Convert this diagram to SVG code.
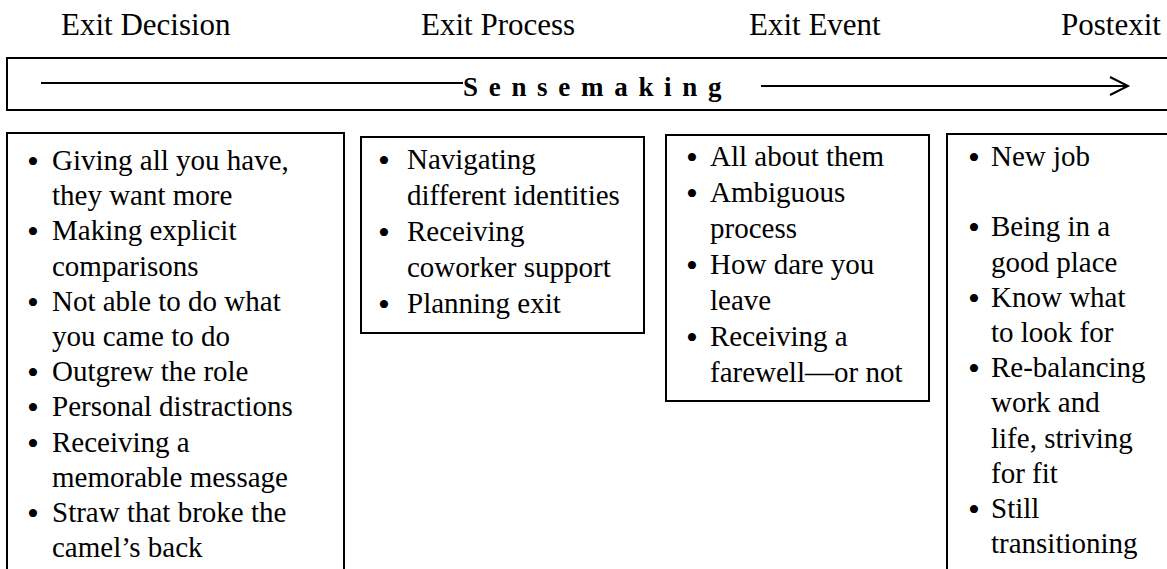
<svg xmlns="http://www.w3.org/2000/svg" width="1167" height="569" viewBox="0 0 1167 569">
<style>
.hd{font-family:"Liberation Serif","Times New Roman",serif;font-size:31px;fill:#000}
.t{font-family:"Liberation Serif","Times New Roman",serif;font-size:29px;fill:#000}
.bl{font-size:34px}
.box{fill:#fff;stroke:#000;stroke-width:2}
.ln{stroke:#000;stroke-width:2;fill:none}
.sm{font-family:"Liberation Serif","Times New Roman",serif;font-size:27px;font-weight:bold;letter-spacing:10.7px;fill:#000}
</style>
<rect width="1167" height="569" fill="#fff"/>
<g id="headers">
<text class="hd" x="61" y="35">Exit Decision</text>
<text class="hd" x="421" y="35">Exit Process</text>
<text class="hd" x="749" y="35">Exit Event</text>
<text class="hd" x="1061" y="35">Postexit</text>
</g>
<g id="sensemaking">
<rect class="box" x="7" y="58" width="1170" height="52"/>
<text class="sm" x="463" y="96">Sensemaking</text>
</g>
<g id="connectors">
<line class="ln" x1="41" y1="83" x2="463" y2="83"/>
<line class="ln" x1="761" y1="86" x2="1128" y2="86"/>
<polyline class="ln" points="1110,77 1128,86 1110,95"/>
</g>
<g id="exit-decision">
<rect class="box" x="7" y="133" width="337" height="460"/>
<text class="t" y="170"><tspan class="bl" x="27" dy="3">•</tspan><tspan x="52" y="170">Giving all you have,</tspan></text>
<text class="t" x="52" y="205">they want more</text>
<text class="t" y="240"><tspan class="bl" x="27" dy="3">•</tspan><tspan x="52" y="240">Making explicit</tspan></text>
<text class="t" x="52" y="276">comparisons</text>
<text class="t" y="311"><tspan class="bl" x="27" dy="3">•</tspan><tspan x="52" y="311">Not able to do what</tspan></text>
<text class="t" x="52" y="346">you came to do</text>
<text class="t" y="381"><tspan class="bl" x="27" dy="3">•</tspan><tspan x="52" y="381">Outgrew the role</tspan></text>
<text class="t" y="416"><tspan class="bl" x="27" dy="3">•</tspan><tspan x="52" y="416">Personal distractions</tspan></text>
<text class="t" y="452"><tspan class="bl" x="27" dy="3">•</tspan><tspan x="52" y="452">Receiving a</tspan></text>
<text class="t" x="52" y="487">memorable message</text>
<text class="t" y="522"><tspan class="bl" x="27" dy="3">•</tspan><tspan x="52" y="522">Straw that broke the</tspan></text>
<text class="t" x="52" y="557">camel’s back</text>
</g>
<g id="exit-process">
<rect class="box" x="361" y="137" width="283" height="196"/>
<text class="t" y="169"><tspan class="bl" x="378" dy="3">•</tspan><tspan x="407" y="169">Navigating</tspan></text>
<text class="t" x="407" y="205">different identities</text>
<text class="t" y="241"><tspan class="bl" x="378" dy="3">•</tspan><tspan x="407" y="241">Receiving</tspan></text>
<text class="t" x="407" y="277">coworker support</text>
<text class="t" y="313"><tspan class="bl" x="378" dy="3">•</tspan><tspan x="407" y="313">Planning exit</tspan></text>
</g>
<g id="exit-event">
<rect class="box" x="666" y="135" width="263" height="266"/>
<text class="t" y="166"><tspan class="bl" x="686" dy="3">•</tspan><tspan x="710" y="166">All about them</tspan></text>
<text class="t" y="202"><tspan class="bl" x="686" dy="3">•</tspan><tspan x="710" y="202">Ambiguous</tspan></text>
<text class="t" x="710" y="238">process</text>
<text class="t" y="274"><tspan class="bl" x="686" dy="3">•</tspan><tspan x="710" y="274">How dare you</tspan></text>
<text class="t" x="710" y="310">leave</text>
<text class="t" y="346"><tspan class="bl" x="686" dy="3">•</tspan><tspan x="710" y="346">Receiving a</tspan></text>
<text class="t" x="710" y="382">farewell—or not</text>
</g>
<g id="postexit">
<rect class="box" x="947" y="134" width="240" height="460"/>
<text class="t" y="166"><tspan class="bl" x="968" dy="3">•</tspan><tspan x="991" y="166">New job</tspan></text>
<text class="t" y="236"><tspan class="bl" x="968" dy="3">•</tspan><tspan x="991" y="236">Being in a</tspan></text>
<text class="t" x="991" y="272">good place</text>
<text class="t" y="307"><tspan class="bl" x="968" dy="3">•</tspan><tspan x="991" y="307">Know what</tspan></text>
<text class="t" x="991" y="342">to look for</text>
<text class="t" y="377"><tspan class="bl" x="968" dy="3">•</tspan><tspan x="991" y="377">Re-balancing</tspan></text>
<text class="t" x="991" y="412">work and</text>
<text class="t" x="991" y="448">life, striving</text>
<text class="t" x="991" y="483">for fit</text>
<text class="t" y="518"><tspan class="bl" x="968" dy="3">•</tspan><tspan x="991" y="518">Still</tspan></text>
<text class="t" x="991" y="553">transitioning</text>
</g>
</svg>
